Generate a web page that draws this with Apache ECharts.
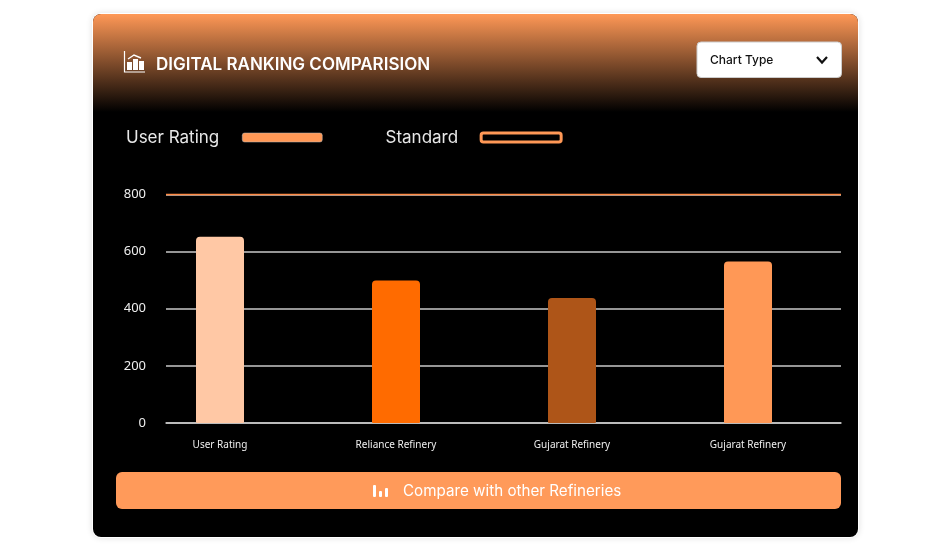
<!DOCTYPE html>
<html lang="en">
  <head>
    <meta charset="UTF-8" />
    <title>Digital Ranking Comparision</title>
    <script src="https://cdn.jsdelivr.net/npm/echarts@6/dist/echarts.min.js"></script>
    <style>
      html, body { margin: 0; padding: 0; background: #fff; }
      #chart { width: 950px; height: 550px; }
    </style>
  </head>
  <body>
    <div id="chart"></div>
    <script>
      var categories = ["User Rating", "Reliance Refinery", "Gujarat Refinery", "Gujarat Refinery"];
      var ratingValues = [652, 499, 438, 565];
      var barColors = ["#ffc8a5", "#ff6b00", "#ae5518", "#ff9856"];
      var standardValues = [800, 800, 800, 800];
      var yTicks = { min: 0, max: 800, interval: 200 };

      var headFont = "Inter";
      var orange = "#ff9856";

      var myChart = echarts.init(document.getElementById("chart"), null, { renderer: "canvas" });

      // 卡片、表头、下拉框、按钮
      var chrome = [
        { type: "rect", z: -10, shape: { x: 92, y: 13, width: 767, height: 525, r: 9 }, style: { fill: "#fff", shadowBlur: 6, shadowColor: "rgba(0,0,0,0.12)" } },
        { type: "rect", z: -9, shape: { x: 93, y: 14, width: 765, height: 523, r: 8 }, style: { fill: "#000" } },
        {
          type: "rect", z: -8,
          shape: { x: 93, y: 14, width: 765, height: 98, r: [8, 8, 0, 0] },
          style: { fill: new echarts.graphic.LinearGradient(0, 0, 0, 1, [{ offset: 0, color: orange }, { offset: 1, color: "#000" }]) }
        },
        // 表头图标
        { type: "polyline", shape: { points: [[124.5, 51], [124.5, 72], [145, 72]] }, style: { stroke: "#fff", lineWidth: 1.2, fill: null } },
        { type: "rect", shape: { x: 127, y: 62, width: 5, height: 8 }, style: { fill: "#fff" } },
        { type: "rect", shape: { x: 133, y: 59, width: 5, height: 11 }, style: { fill: "#fff" } },
        { type: "rect", shape: { x: 139, y: 61, width: 5, height: 9 }, style: { fill: "#fff" } },
        { type: "polyline", shape: { points: [[128, 59], [134, 55], [141, 58]] }, style: { stroke: "#fff", lineWidth: 1.4, fill: null } },
        { type: "text", style: { x: 156, y: 65, text: "DIGITAL RANKING COMPARISION", fill: "#fff", font: "600 17px " + headFont, textVerticalAlign: "middle" } },
        // 下拉框
        { type: "rect", shape: { x: 697, y: 42, width: 144.5, height: 35.5, r: 4 }, style: { fill: "#fff", stroke: "#ccc", lineWidth: 1 } },
        { type: "text", style: { x: 710, y: 60.5, text: "Chart Type", fill: "#111", font: "500 12px " + headFont, textVerticalAlign: "middle" } },
        { type: "polyline", shape: { points: [[817, 57], [822, 62.5], [827, 57]] }, style: { stroke: "#111", lineWidth: 2.2, fill: null } },
        // 底部按钮
        { type: "rect", shape: { x: 116, y: 472, width: 725, height: 37, r: 6 }, style: { fill: "#ff9a5a" } },
        { type: "rect", shape: { x: 373, y: 485, width: 3, height: 12, r: 1 }, style: { fill: "#fff" } },
        { type: "rect", shape: { x: 379, y: 491, width: 3, height: 6, r: 1 }, style: { fill: "#fff" } },
        { type: "rect", shape: { x: 385, y: 488, width: 3, height: 9, r: 1 }, style: { fill: "#fff" } },
        { type: "text", style: { x: 403, y: 491.5, text: "Compare with other Refineries", fill: "#fff", font: "400 15.2px " + headFont, textVerticalAlign: "middle" } }
      ];

      var option = {
        animation: false,
        backgroundColor: "#fff",
        graphic: chrome,
        legend: {
          left: 126,
          top: 129,
          align: "right",
          itemWidth: 80,
          itemHeight: 9,
          itemGap: 63,
          padding: 0,
          textStyle: { color: "#e8e8e8", fontFamily: headFont, fontSize: 17, padding: [0, 18, 0, 0] },
          data: [
            { name: "User Rating", icon: "roundRect", itemStyle: { color: orange, borderColor: "#bbb", borderWidth: 0.5 } },
            { name: "Standard", icon: "roundRect", itemStyle: { color: "transparent", borderColor: orange, borderWidth: 3 }, lineStyle: { width: 0 } }
          ]
        },
        grid: [
          // 刻度线的范围
          { left: 166, top: 194.5, width: 675, height: 228.5 },
          // 柱子的范围，比刻度线偏左
          { left: 132, top: 194.5, width: 704, height: 228.5 }
        ],
        xAxis: [
          {
            type: "category", gridIndex: 0, boundaryGap: false, data: categories,
            axisLine: { show: true, lineStyle: { color: "#c8c8c8", width: 1.5 } },
            axisTick: { show: false }, axisLabel: { show: false }, splitLine: { show: false }
          },
          {
            type: "category", gridIndex: 1, data: categories,
            axisLine: { show: false }, axisTick: { show: false }, splitLine: { show: false },
            axisLabel: { color: "#eee", fontFamily: "Noto Sans", fontSize: 10, margin: 17, interval: 0 }
          }
        ],
        yAxis: [
          {
            type: "value", gridIndex: 0, min: yTicks.min, max: yTicks.max, interval: yTicks.interval,
            axisLine: { show: false }, axisTick: { show: false },
            axisLabel: { color: "#eee", fontFamily: "Noto Sans", fontSize: 13, margin: 20 },
            splitLine: { lineStyle: { color: "#c8c8c8", width: 1.5 } }
          },
          {
            type: "value", gridIndex: 1, min: yTicks.min, max: yTicks.max, interval: yTicks.interval,
            axisLine: { show: false }, axisTick: { show: false }, axisLabel: { show: false }, splitLine: { show: false }
          }
        ],
        series: [
          {
            name: "User Rating",
            type: "bar",
            xAxisIndex: 1,
            yAxisIndex: 1,
            barWidth: 48,
            itemStyle: { color: orange },
            data: ratingValues.map(function (v, i) {
              return { value: v, itemStyle: { color: barColors[i], borderRadius: [4, 4, 1, 1] } };
            })
          },
          {
            name: "Standard",
            type: "line",
            xAxisIndex: 0,
            yAxisIndex: 0,
            symbol: "none",
            clip: false,
            lineStyle: { color: "#ff8a45", width: 1.5 },
            itemStyle: { color: orange },
            data: standardValues
          }
        ]
      };
      myChart.setOption(option);
    </script>
  </body>
</html>
